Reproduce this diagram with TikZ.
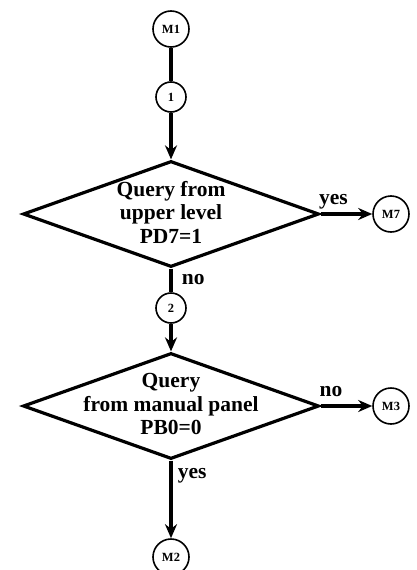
\documentclass[tikz,border=0pt]{standalone}
\usepackage{fontspec}
\setmainfont{Liberation Serif}
\usetikzlibrary{shapes.geometric,arrows.meta}
\begin{document}
\begin{tikzpicture}[x=1pt, y=-1pt,
      font=\bfseries\fontsize{21.5}{23.5}\selectfont,
      conn/.style={circle, draw, line width=1.6pt, inner sep=0pt, minimum size=36pt,
         font=\bfseries\fontsize{12.5}{14}\selectfont},
      num/.style={conn, minimum size=30pt},
      dec/.style={diamond, draw, line width=3.2pt, inner sep=0pt,
         minimum width=296pt, minimum height=106pt},
      flow/.style={line width=3.2pt},
      arr/.style={flow, -{Stealth[length=14pt, width=12pt]}}]
   \useasboundingbox (0, 0) rectangle (416, 570);
   % first query
   \node[conn] (m1) at (171, 29) {M1};
   \node[num] (n1) at (171, 97) {1};
   \node[dec] (q1) at (171, 214) {};
   \node[align=center] (q1t) at (171, 212) {Query from\\upper level\\PD7=1};
   \node[conn] (m7) at (391, 214) {M7};
   \node[num] (n2) at (171, 308) {2};
   % second query
   \node[dec] (q2) at (171, 406) {};
   \node[align=center] (q2t) at (171, 404) {Query\\from manual panel\\PB0=0};
   \node[conn] (m3) at (391, 406) {M3};
   \node[conn] (m2) at (171, 557) {M2};
   \draw[flow] (m1) -- (n1);
   \draw[arr] (n1) -- (q1.north);
   \draw[arr] (q1.east) -- node[above, pos=0.25] (yes1) {yes} (m7);
   \draw[flow] (q1.south) -- node[right, pos=0.45, xshift=6pt] (no1) {no} (n2);
   \draw[arr] (n2) -- (q2.north);
   \draw[arr] (q2.east) -- node[above, pos=0.2, yshift=4pt] (no2) {no} (m3);
   \draw[arr] (q2.south) -- node[right, pos=0.2, xshift=2pt] (yes2) {yes} (m2);
\end{tikzpicture}
\end{document}
